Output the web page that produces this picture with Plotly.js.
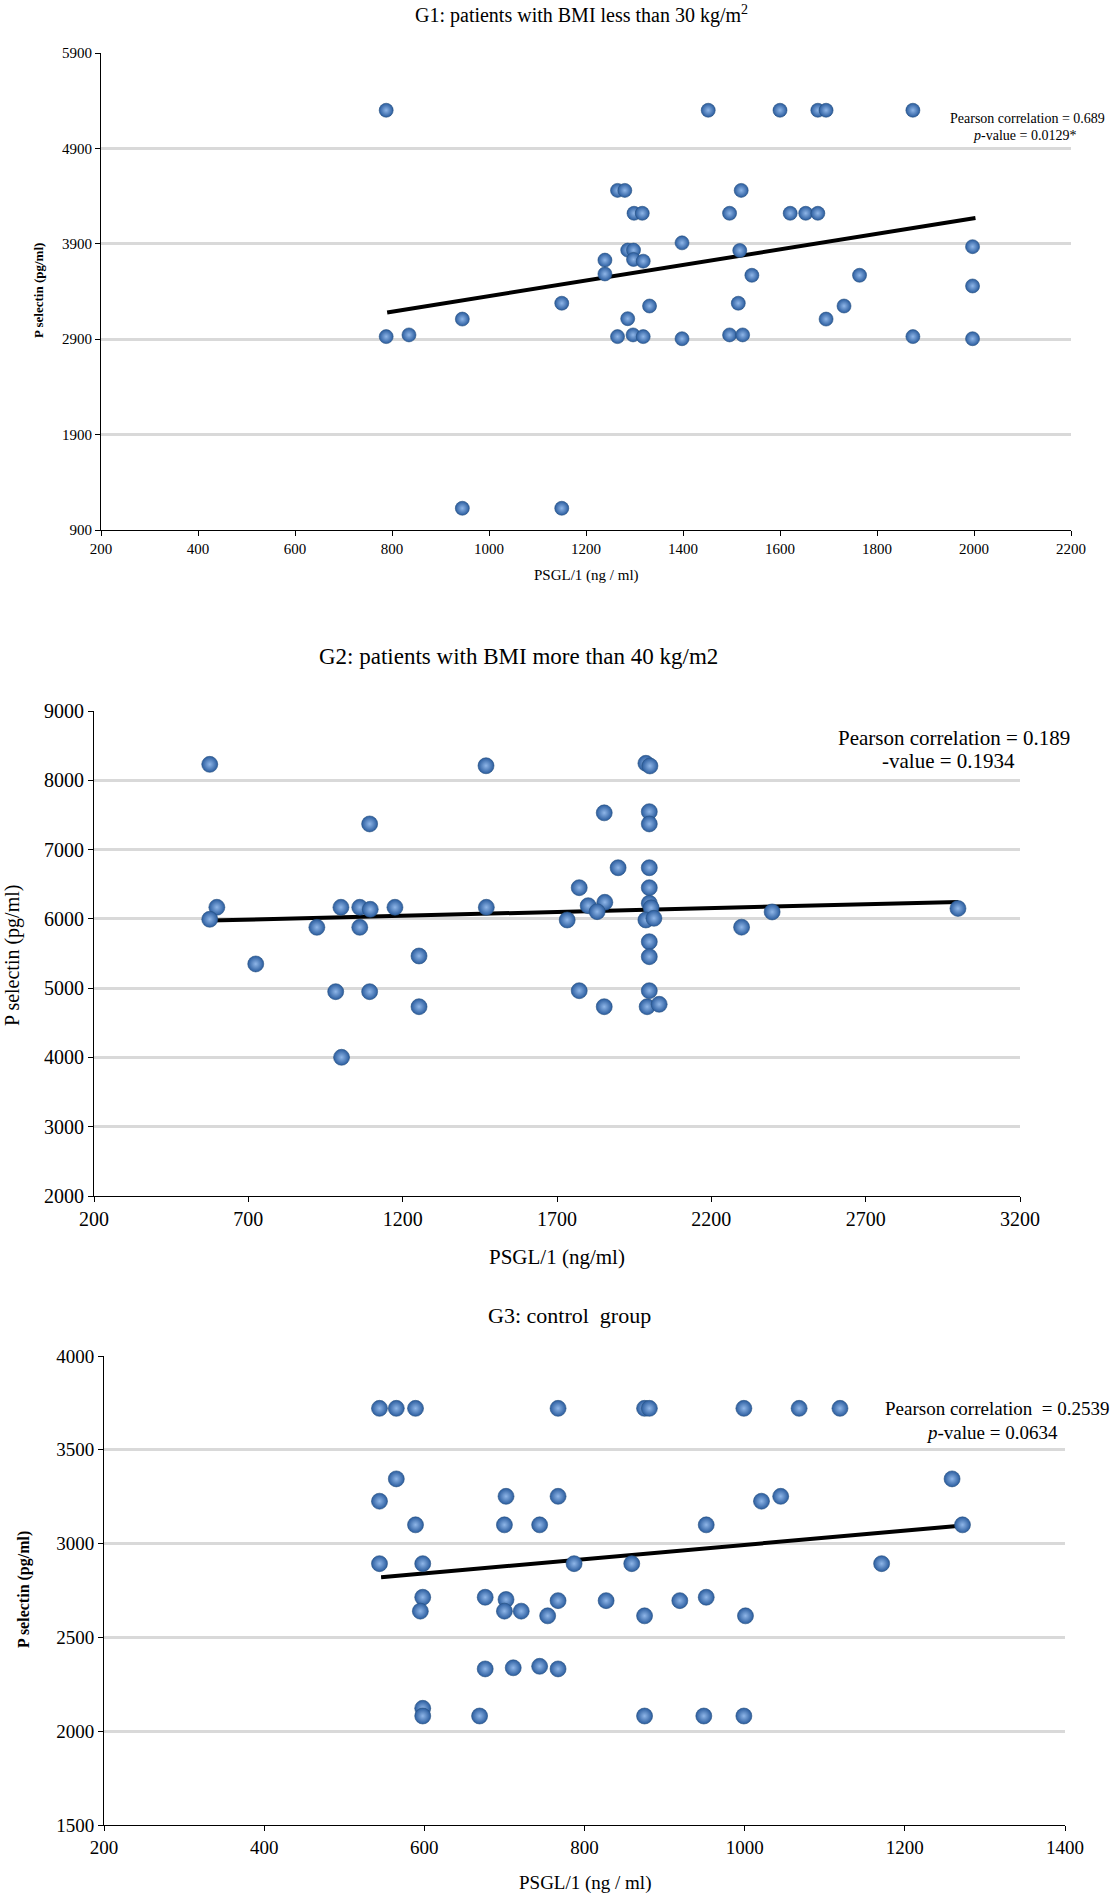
<!DOCTYPE html>
<html>
<head>
<meta charset="utf-8">
<script src="https://cdn.plot.ly/plotly-3.0.1.min.js"></script>
<style>
html,body{margin:0;padding:0;background:#fff;}
#chart{width:1113px;height:1894px;}
</style>
</head>
<body>
<div id="chart"></div>
<script>
// ---------- G1: patients with BMI less than 30 kg/m2 ----------
var g1x = [788,1452,1600,1678,1695,1874,
  1265,1280,1520,
  1299,1316,1496,1621,1653,1678,
  1398,1997,
  1286,1298,1517,
  1239,1298,1318,
  1239,1542,1764,
  1997,
  1150,1514,1331,1732,
  945,1286,1695,
  788,835,1265,1297,1318,1398,1496,1523,1874,1997,
  945,1150];
var g1y = [5300,5300,5300,5300,5300,5300,
  4460,4460,4460,
  4220,4220,4220,4220,4220,4220,
  3910,3870,
  3834,3834,3830,
  3729,3736,3718,
  3584,3570,3570,
  3458,
  3277,3277,3248,3248,
  3111,3115,3111,
  2927,2945,2927,2945,2927,2905,2945,2945,2927,2905,
  1128,1128];
var g1TrendX = [790, 2003];
var g1TrendY = [3180, 4170];

// ---------- G2: patients with BMI more than 40 kg/m2 ----------
var g2x = [575,1470,1988,2001,
  1853,1999,1999,1093,
  1898,1999,
  1772,1999,
  1855,1801,1830,1999,2005,
  598,1000,1061,1095,1175,1471,
  575,1733,1988,2014,
  922,1061,2298,2397,2999,
  1999,1999,
  724,1253,
  983,1093,1772,1999,
  1253,1853,1992,2031,
  1002];
var g2y = [8230,8210,8245,8207,
  7530,7547,7370,7370,
  6738,6738,
  6450,6450,
  6239,6190,6104,6225,6160,
  6167,6167,6167,6138,6167,6167,
  5994,5984,5984,6008,
  5878,5878,5880,6100,6150,
  5670,5454,
  5349,5464,
  4949,4949,4963,4963,
  4732,4732,4732,4767,
  4002];
var g2TrendX = [575, 3000];
var g2TrendY = [5975, 6245];

// ---------- G3: control group ----------
var g3x = [544,565,589,767,875,881,999,1068,1119,
  565,1259,
  544,702,767,1021,1045,
  589,700,744,952,1272,
  544,598,787,859,1171,
  598,595,676,702,700,721,754,767,827,875,919,952,1001,
  676,711,744,767,
  598,598,669,875,949,999];
var g3y = [3721,3721,3721,3721,3721,3721,3721,3721,3721,
  3345,3345,
  3226,3252,3252,3226,3252,
  3100,3100,3100,3100,3100,
  2893,2893,2893,2893,2893,
  2714,2640,2714,2702,2640,2640,2615,2696,2696,2615,2696,2714,2615,
  2332,2338,2346,2332,
  2122,2081,2081,2081,2081,2081];
var g3TrendX = [546, 1276];
var g3TrendY = [2821, 3098];

// ---------- text ----------
var titles = ["G1: patients with BMI less than 30 kg/m<sup>2</sup>",
              "G2: patients with BMI more than 40 kg/m2",
              "G3: control  group"];
var xTitles = ["PSGL/1 (ng / ml)", "PSGL/1 (ng/ml)", "PSGL/1 (ng / ml)"];
var yTitles = ["<b>P selectin (pg/ml)</b>", "P selectin (pg/ml)", "<b>P selectin (pg/ml)</b>"];
var statLine1 = ["Pearson correlation = 0.689", "Pearson correlation = 0.189", "Pearson correlation  = 0.2539"];
var statLine2 = ["<i>p</i>-value = 0.0129*", "-value = 0.1934", "<i>p</i>-value = 0.0634"];

var W = 1113, H = 1894;
var FONT = "Liberation Serif";
function px(v){ return v / W; }
function py(v){ return 1 - v / H; }

var markerBase = {
  color: '#2a5c9e',
  gradient: {type: 'radial', color: '#8fb6e8'},
  line: {color: '#26507f', width: 0.6}
};
function scatter(x, y, ax, size){
  return {x: x, y: y, xaxis: 'x' + ax, yaxis: 'y' + ax, type: 'scatter', mode: 'markers',
    marker: Object.assign({size: size}, markerBase), hoverinfo: 'x+y', showlegend: false};
}
function trend(x, y, ax){
  return {x: x, y: y, xaxis: 'x' + ax, yaxis: 'y' + ax, type: 'scatter', mode: 'lines',
    line: {color: '#000', width: 4}, hoverinfo: 'skip', showlegend: false};
}

var data = [
  trend(g1TrendX, g1TrendY, ''), scatter(g1x, g1y, '', 14),
  trend(g2TrendX, g2TrendY, '2'), scatter(g2x, g2y, '2', 16),
  trend(g3TrendX, g3TrendY, '3'), scatter(g3x, g3y, '3', 16)
];

function xAxis(dom, range, dtick, tick0, fs, anchor){
  return {domain: dom, range: range, dtick: dtick, tick0: tick0, anchor: anchor,
    showgrid: false, zeroline: false, showline: true, linecolor: '#000', linewidth: 1,
    ticks: 'outside', ticklen: 5, tickcolor: '#000', tickfont: {family: FONT, size: fs, color: '#000'},
    fixedrange: true};
}
function yAxis(dom, range, dtick, tick0, fs, anchor){
  return {domain: dom, range: range, dtick: dtick, tick0: tick0, anchor: anchor,
    showgrid: true, gridcolor: '#d9d9d9', gridwidth: 3, zeroline: false,
    showline: true, linecolor: '#000', linewidth: 1,
    ticks: 'outside', ticklen: 5, tickcolor: '#000', tickfont: {family: FONT, size: fs, color: '#000'},
    fixedrange: true};
}

var ann = [];
function txt(t, x, y, size, xanchor, angle){
  ann.push({text: t, xref: 'paper', yref: 'paper', x: px(x), y: py(y), xanchor: xanchor || 'center',
    yanchor: 'middle', showarrow: false, textangle: angle || 0, font: {family: FONT, size: size, color: '#000'}});
}
// G1
txt(titles[0], 581, 14, 20);
txt(xTitles[0], 586, 575, 15);
txt(yTitles[0], 39, 291, 13, 'center', -90);
txt(statLine1[0], 1107, 118, 14, 'right');
txt(statLine2[0], 1078, 136, 14, 'right');
// G2
txt(titles[1], 518, 656, 23);
txt(xTitles[1], 557, 1257, 21);
txt(yTitles[1], 12, 956, 20, 'center', -90);
txt(statLine1[1], 1072, 738, 21, 'right');
txt(statLine2[1], 1017, 761, 21, 'right');
// G3
txt(titles[2], 569, 1315, 22);
txt(xTitles[2], 585, 1883, 19);
txt(yTitles[2], 24, 1590, 16, 'center', -90);
txt(statLine1[2], 1111, 1408, 19, 'right');
txt(statLine2[2], 1060, 1432, 19, 'right');

var layout = {
  width: W, height: H, margin: {l: 0, r: 0, t: 0, b: 0},
  font: {family: FONT, color: '#000'},
  paper_bgcolor: '#fff', plot_bgcolor: '#fff', showlegend: false,
  xaxis:  xAxis([px(101), px(1071)], [200, 2200], 200, 200, 15, 'y'),
  yaxis:  yAxis([py(530), py(53)], [900, 5900], 1000, 900, 15, 'x'),
  xaxis2: xAxis([px(94), px(1020)], [200, 3200], 500, 200, 20, 'y2'),
  yaxis2: yAxis([py(1196), py(711)], [2000, 9000], 1000, 0, 20, 'x2'),
  xaxis3: xAxis([px(104), px(1065)], [200, 1400], 200, 200, 19, 'y3'),
  yaxis3: yAxis([py(1825), py(1356)], [1500, 4000], 500, 0, 19, 'x3'),
  annotations: ann
};

Plotly.newPlot('chart', data, layout, {displayModeBar: false, staticPlot: true});
</script>
</body>
</html>
